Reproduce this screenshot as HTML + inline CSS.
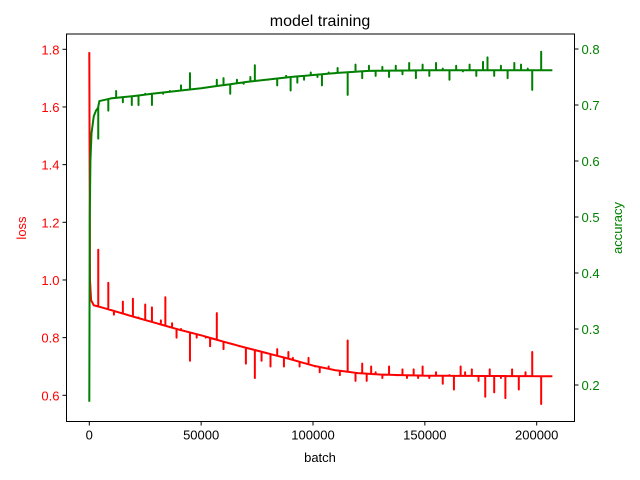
<!DOCTYPE html>
<html><head><meta charset="utf-8"><style>
body{margin:0;background:#fff}
svg{display:block;font-family:"Liberation Sans","DejaVu Sans",sans-serif}
</style></head><body>
<svg id="chart" width="640" height="480"></svg>
<script>
const lossBaseBatch=[0,300,800,2000,5000,10000,20000,30000,40000,50000,60000,70000,80000,90000,100000,110000,120000,130000,150000,207000];
const lossBaseVal=[1.79,1.0,0.93,0.912,0.906,0.895,0.872,0.85,0.828,0.808,0.786,0.765,0.745,0.725,0.703,0.687,0.677,0.672,0.668,0.666];
const lossSpikeBatch=[4000,8500,11000,15000,19500,22000,25000,28000,32000,34000,37000,39000,41000,45000,48000,52000,54000,57000,60000,63000,67000,70000,74000,77000,81000,84000,87000,89000,91000,94000,98000,101000,103000,107000,112000,115500,119000,122000,124000,126000,128000,131000,134000,137000,140000,142000,145000,147000,149000,152000,155000,158000,161000,163000,166000,168000,171000,174000,177000,179000,181000,184000,186000,189000,192000,195000,198000,202000];
const lossSpikeVal=[1.105,0.99,0.88,0.925,0.935,0.87,0.915,0.905,0.86,0.94,0.85,0.80,0.83,0.72,0.80,0.80,0.77,0.885,0.76,0.78,0.77,0.71,0.66,0.72,0.70,0.76,0.70,0.75,0.73,0.70,0.73,0.70,0.68,0.70,0.67,0.79,0.65,0.71,0.65,0.70,0.68,0.66,0.70,0.67,0.69,0.66,0.69,0.66,0.70,0.66,0.68,0.64,0.67,0.62,0.70,0.68,0.69,0.65,0.595,0.69,0.61,0.66,0.59,0.69,0.62,0.68,0.75,0.57];
const accBaseBatch=[0,200,500,1000,2000,3000,3900,4500,10000,20000,30000,50000,70000,90000,110000,125000,150000,207000];
const accBaseVal=[0.17,0.5,0.6,0.65,0.68,0.69,0.695,0.707,0.712,0.716,0.721,0.730,0.741,0.750,0.757,0.761,0.762,0.762];
const accSpikeBatch=[4000,8500,12000,15000,19000,22000,25000,28000,33000,36000,41000,45000,50000,57000,60000,63000,66000,69000,72000,74000,80000,84000,88000,90000,93000,96000,99000,102000,104000,107000,111000,115500,119000,122000,125000,128000,131000,134000,137000,140000,143000,146000,149000,152000,155000,158000,161000,164000,167000,170000,173000,176000,178000,181000,184000,187000,190000,193000,196000,198000,202000];
const accSpikeVal=[0.64,0.69,0.725,0.705,0.70,0.70,0.72,0.70,0.72,0.725,0.735,0.757,0.73,0.745,0.748,0.72,0.745,0.738,0.75,0.771,0.745,0.735,0.752,0.726,0.74,0.745,0.758,0.75,0.735,0.758,0.766,0.718,0.772,0.748,0.77,0.752,0.768,0.75,0.77,0.755,0.775,0.748,0.772,0.752,0.775,0.765,0.745,0.77,0.76,0.772,0.752,0.777,0.785,0.752,0.77,0.748,0.775,0.772,0.765,0.727,0.795];
const xTicks=[0,50000,100000,150000,200000];
const lossTicks=[0.6,0.8,1.0,1.2,1.4,1.6,1.8];
const accTicks=[0.2,0.3,0.4,0.5,0.6,0.7,0.8];

const L=66.5,R=574.5,T=34,B=421.5;
const X=b=>89.3+b*(536.7-89.3)/200000;
const YL=v=>395.3-(v-0.6)*(395.3-49.3)/1.2;
const YR=v=>385-(v-0.2)*(385-49)/0.6;
const ns='http://www.w3.org/2000/svg';
const svg=document.getElementById('chart');
function mk(t,a,p){const e=document.createElementNS(ns,t);for(const k in a)e.setAttribute(k,a[k]);(p||svg).appendChild(e);return e;}
function interp(bs,vs,b){for(let i=1;i<bs.length;i++){if(b<=bs[i]){const f=(b-bs[i-1])/(bs[i]-bs[i-1]);return vs[i-1]+f*(vs[i]-vs[i-1]);}}return vs[vs.length-1];}
function series(bs,vs,sb,sv,Y){const pts=[];
 const all=[];bs.forEach((b,i)=>all.push({b,v:vs[i],s:false}));sb.forEach((b,i)=>all.push({b,v:sv[i],s:true}));
 all.sort((a,c)=>a.b-c.b);
 all.forEach(p=>{if(p.s){const base=interp(bs,vs,p.b);pts.push([p.b,base],[p.b,p.v],[p.b,base]);}else pts.push([p.b,p.v]);});
 return pts.map(p=>X(p[0]).toFixed(2)+','+Y(p[1]).toFixed(2)).join(' ');}

const title=mk('text',{x:320,y:26,'text-anchor':'middle','font-size':16,fill:'#000'});title.textContent='model training';



const loss=mk('polyline',{points:series(lossBaseBatch,lossBaseVal,lossSpikeBatch,lossSpikeVal,YL),fill:'none',stroke:'#ff0000','stroke-width':2,'stroke-linejoin':'round'});


const acc=mk('polyline',{points:series(accBaseBatch,accBaseVal,accSpikeBatch,accSpikeVal,YR),fill:'none',stroke:'#008000','stroke-width':2,'stroke-linejoin':'round'});



const frame=mk('rect',{x:L,y:T,width:R-L,height:B-T,fill:'none',stroke:'#000','stroke-width':1});



xTicks.forEach(t=>{const x=X(t);mk('line',{x1:x,x2:x,y1:B,y2:B+4,stroke:'#000'});
 const tx=mk('text',{x:x,y:B+18,'text-anchor':'middle','font-size':13,fill:'#000'});tx.textContent=String(t);
 
 });
lossTicks.forEach(t=>{const y=YL(t);mk('line',{x1:L-4,x2:L,y1:y,y2:y,stroke:'#000'});
 const tx=mk('text',{x:L-7,y:y+5,'text-anchor':'end','font-size':13,fill:'#ff0000'});tx.textContent=t.toFixed(1);
 
 });
accTicks.forEach(t=>{const y=YR(t);mk('line',{x1:R,x2:R+4,y1:y,y2:y,stroke:'#000'});
 const tx=mk('text',{x:R+7,y:y+5,'text-anchor':'start','font-size':13,fill:'#008000'});tx.textContent=t.toFixed(1);
 
 });

const xl=mk('text',{x:320,y:462,'text-anchor':'middle','font-size':13,fill:'#000'});xl.textContent='batch';


const yl=mk('text',{x:0,y:0,'text-anchor':'middle','font-size':13,fill:'#ff0000',transform:'translate(26,228) rotate(-90)'});yl.textContent='loss';


const yr=mk('text',{x:0,y:0,'text-anchor':'middle','font-size':13,fill:'#008000',transform:'translate(622,228) rotate(-90)'});yr.textContent='accuracy';


</script>
</body></html>
